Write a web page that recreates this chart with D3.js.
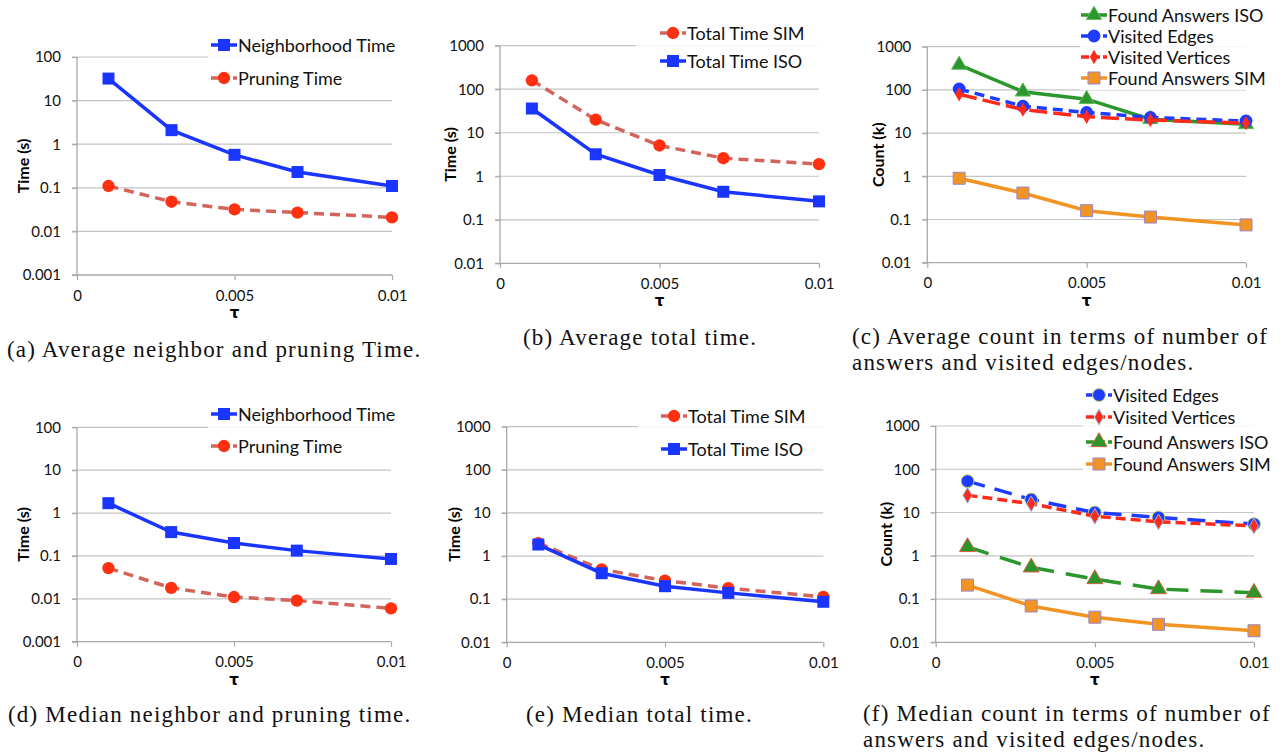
<!DOCTYPE html>
<html>
<head>
<meta charset="utf-8">
<script src="https://cdn.jsdelivr.net/npm/d3@7"></script>
<style>
  body { margin: 0; background: #fff; }
  svg { display: block; }
</style>
</head>
<body>
<div id="container"></div>
<script>
// tau values on the x axis
const tau = [0.001, 0.003, 0.005, 0.007, 0.01];
const xTicks = [0, 0.005, 0.01];
const xTickLabels = ["0", "0.005", "0.01"];

// y tick sets (log axes)
const yTicksTime1 = [0.001, 0.01, 0.1, 1, 10, 100];
const yTicksTime2 = [0.01, 0.1, 1, 10, 100, 1000];
const yTickLabels1 = ["0.001", "0.01", "0.1", "1", "10", "100"];
const yTickLabels2 = ["0.01", "0.1", "1", "10", "100", "1000"];

// (a) average neighbor / pruning time
const avgNeighborhood = [32, 2.1, 0.57, 0.23, 0.11];
const avgPruning = [0.11, 0.048, 0.032, 0.027, 0.021];
// (b) average total time
const avgTotalSim = [160, 20, 5.1, 2.6, 1.9];
const avgTotalIso = [36, 3.2, 1.07, 0.44, 0.265];
// (c) average counts
const avgFoundIso = [380, 91, 61, 21, 16];
const avgEdges = [105, 42, 30, 23, 19];
const avgVertices = [79, 35, 24, 20, 17];
const avgFoundSim = [0.9, 0.41, 0.16, 0.114, 0.075];
// (d) median neighbor / pruning time
const medNeighborhood = [1.7, 0.36, 0.2, 0.133, 0.085];
const medPruning = [0.052, 0.018, 0.011, 0.0091, 0.006];
// (e) median total time
const medTotalSim = [2.0, 0.49, 0.27, 0.18, 0.113];
const medTotalIso = [1.85, 0.4, 0.2, 0.14, 0.087];
// (f) median counts
const medEdges = [53, 20, 10, 7.7, 5.4];
const medVertices = [25, 16, 8.2, 6.1, 4.9];
const medFoundIso = [1.6, 0.54, 0.29, 0.17, 0.14];
const medFoundSim = [0.21, 0.069, 0.038, 0.026, 0.0185];

//Line + marker styles
const styles = {
    blue:     {stroke: "#1a35ff", dash: null, sym: d3.symbolSquare, size: 144, fill: "#1a35ff", outline: "none"},
    red:      {stroke: "#d3645c", dash: "10,6", sym: d3.symbolCircle, size: 120, fill: "#ff3010", outline: "none"},
    greenC:   {stroke: "#2b962b", dash: null, sym: d3.symbolTriangle, size: 100, fill: "#2b962b", outline: "#5fb85f"},
    edgesC:   {stroke: "#1e3cff", dash: "10,6", sym: d3.symbolCircle, size: 130, fill: "#1e3cff", outline: "none"},
    vertC:    {stroke: "#ff2a1a", dash: "18,6", sym: d3.symbolDiamond, size: 60, fill: "#ff2a1a", outline: "none"},
    orange:   {stroke: "#f29424", dash: null, sym: d3.symbolSquare, size: 144, fill: "#f29424", outline: "#9b86c9"},
    edgesF:   {stroke: "#1e3cff", dash: "18,10", sym: d3.symbolCircle, size: 130, fill: "#1e3cff", outline: "#c8d86a"},
    vertF:    {stroke: "#ff2a1a", dash: "10,5", sym: d3.symbolDiamond, size: 70, fill: "#ff2a1a", outline: "#8fb3e0"},
    greenF:   {stroke: "#2b962b", dash: "22,12", sym: d3.symbolTriangle, size: 110, fill: "#2b962b", outline: "#d0603c"}
};

const panels = [
    {x0: 77, x1: 392, yTop: 57, yBot: 275, yTicks: yTicksTime1, yLabels: yTickLabels1, title: "Time (s)", titleX: 22,
     series: [["Neighborhood Time", avgNeighborhood, "blue"], ["Pruning Time", avgPruning, "red"]],
     legX: 211, legY: [45, 78], box: [208, 30, 185, 62],
     caption: {x: 7, y: [357], lines: ["(a) Average neighbor and pruning Time."]}},
    {x0: 500, x1: 819, yTop: 45.7, yBot: 263.3, yTicks: yTicksTime2, yLabels: yTickLabels2, title: "Time (s)", titleX: 449,
     series: [["Total Time SIM", avgTotalSim, "red"], ["Total Time ISO", avgTotalIso, "blue"]],
     legX: 660, legY: [33, 61], box: [636, 18, 184, 58],
     caption: {x: 523, y: [345], lines: ["(b) Average total time."]}},
    {x0: 927.3, x1: 1246, yTop: 46.7, yBot: 262.7, yTicks: yTicksTime2, yLabels: yTickLabels2, title: "Count (k)", titleX: 877,
     series: [["Found Answers ISO", avgFoundIso, "greenC"], ["Visited Edges", avgEdges, "edgesC"],
              ["Visited Vertices", avgVertices, "vertC"], ["Found Answers SIM", avgFoundSim, "orange"]],
     legX: 1081, legY: [15, 36, 57, 78], box: [1080, 2, 172, 88],
     caption: {x: 852, y: [344, 370], lines: ["(c) Average count in terms of number of", "answers and visited edges/nodes."]}},
    {x0: 77, x1: 391, yTop: 427.3, yBot: 641.7, yTicks: yTicksTime1, yLabels: yTickLabels1, title: "Time (s)", titleX: 22,
     series: [["Neighborhood Time", medNeighborhood, "blue"], ["Pruning Time", medPruning, "red"]],
     legX: 211, legY: [414, 446], box: [208, 398, 185, 62],
     caption: {x: 8, y: [722], lines: ["(d) Median neighbor and pruning time."]}},
    {x0: 506.7, x1: 823.3, yTop: 426.7, yBot: 642.3, yTicks: yTicksTime2, yLabels: yTickLabels2, title: "Time (s)", titleX: 453,
     series: [["Total Time SIM", medTotalSim, "red"], ["Total Time ISO", medTotalIso, "blue"]],
     legX: 661, legY: [416, 449], box: [638, 400, 186, 64],
     caption: {x: 526, y: [722], lines: ["(e) Median total time."]}},
    {x0: 935.7, x1: 1254, yTop: 426, yBot: 642.3, yTicks: yTicksTime2, yLabels: yTickLabels2, title: "Count (k)", titleX: 885,
     series: [["Visited Edges", medEdges, "edgesF"], ["Visited Vertices", medVertices, "vertF"],
              ["Found Answers ISO", medFoundIso, "greenF"], ["Found Answers SIM", medFoundSim, "orange"]],
     legX: 1086, legY: [395, 417, 442, 464], box: [1083, 382, 178, 92],
     caption: {x: 863, y: [721, 747], lines: ["(f) Median count in terms of number of", "answers and visited edges/nodes."]}}
];

let svg = d3.select("#container")
    .append("svg")
    .attr("width", 1283)
    .attr("height", 756);

const font = "Lato, 'Open Sans', sans-serif";

function drawPanel(p) {
    let g = svg.append("g");
    let x = d3.scaleLinear().domain([0, 0.01]).range([p.x0, p.x1]);
    let y = d3.scaleLog().domain([p.yTicks[0], p.yTicks[p.yTicks.length - 1]]).range([p.yBot, p.yTop]);

    //gridlines
    g.selectAll(".grid")
        .data(p.yTicks.slice(1))
        .enter()
        .append("line")
        .attr("x1", p.x0 - 5).attr("x2", p.x1)
        .attr("y1", d => y(d)).attr("y2", d => y(d))
        .attr("stroke", "#c4c4c4").attr("stroke-width", 1.2);

    //y axis
    let yAxis = d3.axisLeft(y).tickValues(p.yTicks).tickFormat((d, i) => p.yLabels[i]).tickSize(5).tickPadding(11);
    let ya = g.append("g").attr("transform", `translate(${p.x0},0)`).call(yAxis);
    ya.select(".domain").attr("stroke", "#a8a8a8").attr("stroke-width", 1.3).attr("d", `M0,${p.yTop}V${p.yBot}`);
    ya.selectAll(".tick line").attr("stroke", "#a8a8a8").attr("stroke-width", 1.2);
    ya.selectAll(".tick text").attr("font-family", font).attr("font-size", 15).attr("fill", "#111");

    //x axis
    let xAxis = d3.axisBottom(x).tickValues(xTicks).tickFormat((d, i) => xTickLabels[i]).tickSize(5).tickPadding(10);
    let xa = g.append("g").attr("transform", `translate(0,${p.yBot})`).call(xAxis);
    xa.select(".domain").attr("stroke", "#a8a8a8").attr("stroke-width", 1.3).attr("d", `M${p.x0 - 5},0H${p.x1}`);
    xa.selectAll(".tick line").attr("stroke", "#a8a8a8").attr("stroke-width", 1.2);
    xa.selectAll(".tick text").attr("font-family", font).attr("font-size", 15).attr("fill", "#111");

    //axis titles
    g.append("text")
        .attr("x", x(0.005)).attr("y", p.yBot + 43)
        .attr("text-anchor", "middle")
        .attr("font-family", "'DejaVu Sans', sans-serif").attr("font-weight", "bold").attr("font-size", 15)
        .text("τ");
    g.append("text")
        .attr("transform", `translate(${p.titleX},${(p.yTop + p.yBot) / 2}) rotate(-90)`)
        .attr("text-anchor", "middle").attr("dominant-baseline", "central")
        .attr("font-family", font).attr("font-weight", "bold").attr("font-size", 16)
        .text(p.title);

    //series
    let line = d3.line().x((d, i) => x(tau[i])).y(d => y(d));
    p.series.forEach(s => {
        let st = styles[s[2]];
        g.append("path")
            .attr("d", line(s[1]))
            .attr("fill", "none")
            .attr("stroke", st.stroke)
            .attr("stroke-width", 3.5)
            .attr("stroke-dasharray", st.dash);
        g.selectAll(null)
            .data(s[1])
            .enter()
            .append("path")
            .attr("transform", (d, i) => `translate(${x(tau[i])},${y(d)})`)
            .attr("d", d3.symbol().type(st.sym).size(st.size))
            .attr("fill", st.fill)
            .attr("stroke", st.outline)
            .attr("stroke-width", 1);
    });

    //legend
    g.append("rect")
        .attr("x", p.box[0]).attr("y", p.box[1]).attr("width", p.box[2]).attr("height", p.box[3])
        .attr("fill", "#fff").attr("opacity", 0.85);
    p.series.forEach((s, i) => {
        let st = styles[s[2]];
        let ly = p.legY[i];
        g.append("line")
            .attr("x1", p.legX).attr("x2", p.legX + 26)
            .attr("y1", ly).attr("y2", ly)
            .attr("stroke", st.stroke).attr("stroke-width", 3.5)
            .attr("stroke-dasharray", st.dash ? "8,3" : null);
        g.append("path")
            .attr("transform", `translate(${p.legX + 13},${ly})`)
            .attr("d", d3.symbol().type(st.sym).size(st.size))
            .attr("fill", st.fill).attr("stroke", st.outline).attr("stroke-width", 1);
        g.append("text")
            .attr("x", p.legX + 27).attr("y", ly)
            .attr("dominant-baseline", "central")
            .attr("font-family", font).attr("font-size", 18).attr("fill", "#111")
            .text(s[0]);
    });

    //caption
    p.caption.lines.forEach((t, i) => {
        svg.append("text")
            .attr("x", p.caption.x).attr("y", p.caption.y[i])
            .attr("font-family", "'Liberation Serif', serif").attr("font-size", 23)
            .attr("letter-spacing", 1.2).attr("fill", "#111")
            .text(t);
    });
}

panels.forEach(drawPanel);
</script>
</body>
</html>
